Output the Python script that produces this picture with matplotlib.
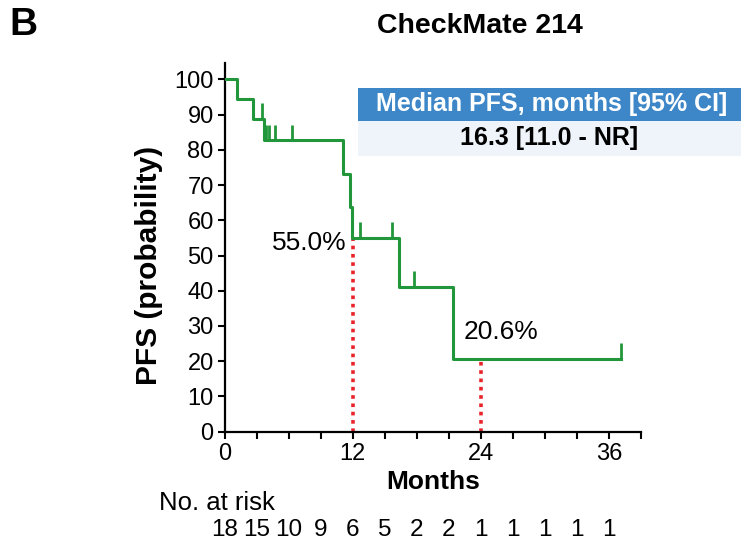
import matplotlib
matplotlib.use('Agg')
import matplotlib.pyplot as plt
import matplotlib.transforms as mtransforms
import numpy as np

plt.rcParams['font.family'] = ['Liberation Sans', 'DejaVu Sans']

# ── data ──
step_months = [0, 1.1, 2.6, 3.65, 11.1, 11.7, 11.9, 16.3, 21.4, 37.1]
step_pfs = [100, 94.4, 88.9, 82.7, 73.1, 63.9, 55.0, 41.2, 20.6, 20.6]
censor_months = [3.5, 3.9, 4.1, 4.7, 6.3, 12.7, 15.7, 17.7, 37.1]

landmark_months = [12, 24]
landmark_pfs = [55.0, 20.6]
landmark_labels = ['55.0%', '20.6%']

risk_months = [0, 3, 6, 9, 12, 15, 18, 21, 24, 27, 30, 33, 36]
risk_counts = [18, 15, 10, 9, 6, 5, 2, 2, 1, 1, 1, 1, 1]

green = '#22963a'
red = '#e8232a'

fig = plt.figure(figsize=(7.47, 5.47), dpi=100)
ax = fig.add_axes([0.301, 0.211, 0.557, 0.674])

# KM curve
ax.step(step_months, step_pfs, where='post', color=green, lw=2.2, zorder=3)

# censor ticks (going up from the curve)
def pfs_at(t):
    idx = np.searchsorted(step_months, t, side='right') - 1
    return step_pfs[idx]

for t in censor_months:
    s = pfs_at(t)
    ax.vlines(t, s, s + 4.5, color=green, lw=2.0, zorder=3)

# landmark dotted lines
for m, p in zip(landmark_months, landmark_pfs):
    ax.vlines(m, 0, p, color=red, lw=2.6, linestyles=(0, (1, 1.3)), zorder=2)

ax.text(landmark_months[0] - 0.6, landmark_pfs[0] - 1.5, landmark_labels[0],
        ha='right', va='center', fontsize=19)
ax.text(landmark_months[1] - 1.6, landmark_pfs[1] + 7.8, landmark_labels[1],
        ha='left', va='center', fontsize=19)

# ── axes ──
ax.set_xlim(0, 38.9)
ax.set_ylim(0, 104.7)
ax.set_xticks([0, 12, 24, 36])
ax.set_xticks(np.arange(0, 39.1, 3), minor=True)
ax.set_yticks(np.arange(0, 101, 10))
ax.tick_params(axis='both', which='both', direction='out', length=5, width=1.5,
               labelsize=17, pad=3)
for side in ['top', 'right']:
    ax.spines[side].set_visible(False)
for side in ['left', 'bottom']:
    ax.spines[side].set_linewidth(1.6)

ax.set_ylabel('PFS (probability)', fontsize=21.5, fontweight='bold')
ax.yaxis.set_label_coords(-0.148, 0.452)
ax.set_xlabel('Months', fontsize=19, fontweight='bold', labelpad=4)

# ── titles ──
fig.text(0.013, 0.955, 'B', fontsize=28, fontweight='bold', va='center', ha='left')
fig.text(0.643, 0.953, 'CheckMate 214', fontsize=20.5, fontweight='bold',
         va='center', ha='center')

# ── median box ──
hdr = plt.Rectangle((0.479, 0.779), 0.513, 0.061, transform=fig.transFigure,
                    facecolor='#3d87c9', edgecolor='none')
body = plt.Rectangle((0.479, 0.715), 0.513, 0.064, transform=fig.transFigure,
                     facecolor='#eef4fa', edgecolor='none')
fig.add_artist(hdr)
fig.add_artist(body)
fig.text(0.739, 0.809, 'Median PFS, months [95% CI]', color='white',
         fontsize=18, fontweight='bold', ha='center', va='center')
fig.text(0.735, 0.747, '16.3 [11.0 - NR]', color='black',
         fontsize=18, fontweight='bold', ha='center', va='center')

# ── number at risk ──
fig.text(0.213, 0.080, 'No. at risk', fontsize=18.5, ha='left', va='center')
risk_tr = mtransforms.blended_transform_factory(ax.transData, fig.transFigure)
for m, n in zip(risk_months, risk_counts):
    ax.text(m, 0.031, str(n), transform=risk_tr,
            ha='center', va='center', fontsize=17.5, clip_on=False)

fig.savefig('out.png', dpi=100, facecolor='white')
